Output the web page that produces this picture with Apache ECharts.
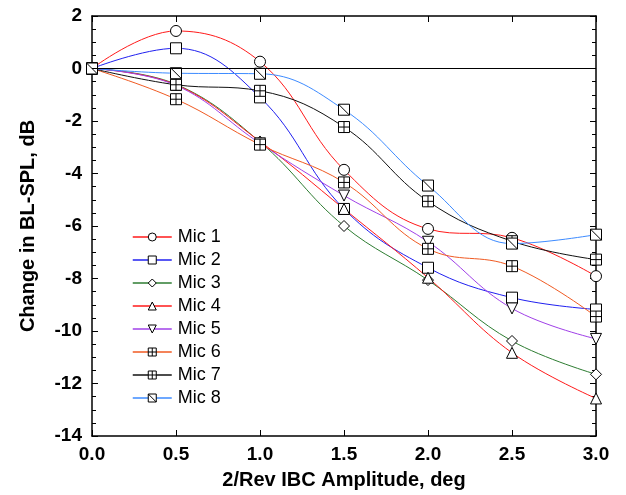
<!DOCTYPE html>
<html>
<head>
<meta charset="utf-8">
<script src="https://cdn.jsdelivr.net/npm/echarts@6/dist/echarts.min.js"></script>
<style>html,body{margin:0;padding:0;background:#fff}#c{width:626px;height:495px}</style>
</head>
<body>
<div id="c"></div>
<script>
// Data
var xValues = [0, 0.5, 1.0, 1.5, 2.0, 2.5, 3.0];
var mic1 = [0, 1.43, 0.26, -3.86, -6.11, -6.45, -7.91];
var mic2 = [0, 0.77, -1.1, -5.35, -7.59, -8.73, -9.18];
var mic3 = [0, -0.6, -2.8, -6.0, -8.06, -10.38, -11.65];
var mic4 = [0, -0.62, -2.78, -5.35, -7.97, -10.83, -12.57];
var mic5 = [0, -0.64, -2.85, -4.84, -6.6, -9.14, -10.3];
var mic6 = [0, -1.17, -2.9, -4.34, -6.87, -7.53, -9.45];
var mic7 = [0, -0.62, -0.85, -2.23, -5.06, -6.58, -7.28];
var mic8 = [0, -0.18, -0.2, -1.57, -4.46, -6.67, -6.33];
var seriesNames = ['Mic 1','Mic 2','Mic 3','Mic 4','Mic 5','Mic 6','Mic 7','Mic 8'];
var yTicks = [2, 0, -2, -4, -6, -8, -10, -12, -14];
var xTicks = ['0.0','0.5','1.0','1.5','2.0','2.5','3.0'];

var allData = [mic1, mic2, mic3, mic4, mic5, mic6, mic7, mic8];
var colors = ['#ff1a1a', '#2020f0', '#2e7d32', '#ff1a1a', '#a040e8', '#f05a22', '#111111', '#3d8bff'];
var symbols = [
  'circle',
  'path://M0,0L10,0L10,10L0,10Z',
  'path://M5,0L10,5L5,10L0,5Z',
  'path://M5,0L10,9L0,9Z',
  'path://M0,0L10,0L5,9Z',
  'path://M0,0L10,0L10,10L0,10Z M5,0L5,10 M0,5L10,5',
  'path://M0,0L10,0L10,10L0,10Z M5,0L5,10 M0,5L10,5',
  'path://M0,0L10,0L10,10L0,10Z M0,0L10,10'
];
var sizes = [11, 11, 11, 11, 11, 11, 11, 11];

var font = 'Liberation Sans, Arial, Helvetica, sans-serif';

var series = allData.map(function (arr, i) {
  var s = {
    name: seriesNames[i],
    type: 'line',
    smooth: 0.4,
    data: arr.map(function (v, j) { return [xValues[j], v]; }),
    symbol: symbols[i],
    symbolSize: sizes[i],
    showAllSymbol: true,
    lineStyle: { color: colors[i], width: 1 },
    itemStyle: { color: '#ffffff', borderColor: '#000', borderWidth: 1 },
    emphasis: { disabled: true },
    animation: false,
    z: 3
  };
  if (i === 0) {
    s.markLine = {
      silent: true,
      symbol: ['none', 'none'],
      label: { show: false },
      lineStyle: { color: '#000', type: 'solid', width: 1 },
      data: [{ yAxis: 0 }],
      animation: false
    };
  }
  return s;
});

var chart = echarts.init(document.getElementById('c'), null, { renderer: 'canvas' });
var axisLine = { show: true, onZero: false, lineStyle: { color: '#000', width: 1.5 } };
chart.setOption({
  animation: false,
  backgroundColor: '#fff',
  grid: { left: 92, right: 30, top: 16, bottom: 57, containLabel: false },
  legend: {
    orient: 'vertical',
    left: 132,
    top: 228,
    padding: 0,
    itemWidth: 39,
    itemHeight: 10,
    itemGap: 5,
    selectedMode: false,
    data: seriesNames,
    itemStyle: { color: '#ffffff', borderColor: '#000', borderWidth: 1 },
    lineStyle: { width: 1.5 },
    textStyle: { fontFamily: font, fontSize: 18, color: '#000', lineHeight: 18, padding: [0, 0, 0, 1] }
  },
  xAxis: [{
    type: 'value', min: 0, max: 3, interval: 0.5,
    axisLine: axisLine,
    axisTick: { inside: true, length: 6, lineStyle: { color: '#000', width: 1 } },
    splitLine: { show: false },
    axisLabel: {
      margin: 9, fontFamily: font, fontWeight: 'bold', fontSize: 19, color: '#000',
      formatter: function (v) { return xTicks[Math.round(v * 2)]; }
    },
    name: '2/Rev IBC Amplitude, deg',
    nameLocation: 'middle', nameGap: 34,
    nameTextStyle: { fontFamily: font, fontWeight: 'bold', fontSize: 20, color: '#000' }
  }, {
    type: 'value', min: 0, max: 3, interval: 0.5, position: 'top',
    axisLine: axisLine,
    axisTick: { inside: true, length: 6, lineStyle: { color: '#000', width: 1 } },
    splitLine: { show: false },
    axisLabel: { show: false }
  }],
  yAxis: [{
    type: 'value', min: -14, max: 2, interval: 2,
    axisLine: axisLine,
    axisTick: { inside: true, length: 6, lineStyle: { color: '#000', width: 1 } },
    minorTick: { show: true, splitNumber: 4, length: 4, lineStyle: { color: '#000', width: 1 } },
    splitLine: { show: false },
    axisLabel: {
      margin: 10, fontFamily: font, fontWeight: 'bold', fontSize: 19, color: '#000',
      formatter: function (v) { var k = yTicks.indexOf(v); return k >= 0 ? String(yTicks[k]) : ''; }
    },
    name: 'Change in BL-SPL, dB',
    nameLocation: 'middle', nameGap: 54, nameRotate: 90,
    nameTextStyle: { fontFamily: font, fontWeight: 'bold', fontSize: 20, color: '#000' }
  }, {
    type: 'value', min: -14, max: 2, interval: 2, position: 'right',
    axisLine: axisLine,
    axisTick: { inside: true, length: 6, lineStyle: { color: '#000', width: 1 } },
    minorTick: { show: true, splitNumber: 4, length: 4, lineStyle: { color: '#000', width: 1 } },
    splitLine: { show: false },
    axisLabel: { show: false }
  }],
  series: series
});
</script>
</body>
</html>
